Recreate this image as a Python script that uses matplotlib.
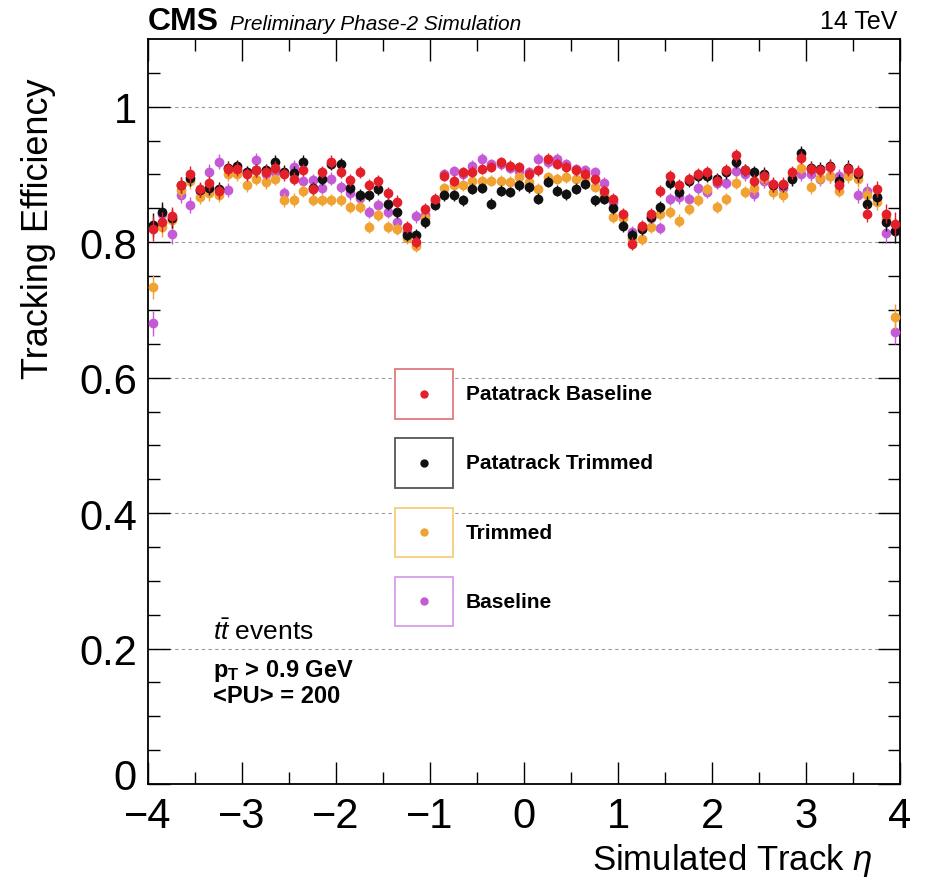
import numpy as np
import matplotlib
matplotlib.use('Agg')
import matplotlib.pyplot as plt
from matplotlib.patches import Rectangle

plt.rcParams['font.family'] = ['Liberation Sans', 'DejaVu Sans']
plt.rcParams['mathtext.fontset'] = 'custom'
plt.rcParams['mathtext.rm'] = 'Liberation Sans'
plt.rcParams['mathtext.it'] = 'Liberation Sans:italic'
plt.rcParams['mathtext.bf'] = 'Liberation Sans:bold'

# bin centres in eta, 80 bins of 0.1 between -4 and 4
eta = np.arange(-3.95, 4.0, 0.1)

patatrack_baseline = [
    0.820, 0.830, 0.838, 0.884, 0.900, 0.878, 0.887, 0.875, 0.908, 0.908,
    0.900, 0.906, 0.904, 0.910, 0.900, 0.894, 0.906, 0.879, 0.904, 0.919,
    0.904, 0.892, 0.904, 0.884, 0.890, 0.872, 0.860, 0.823, 0.800, 0.849,
    0.864, 0.898, 0.891, 0.903, 0.904, 0.908, 0.911, 0.918, 0.913, 0.911,
    0.901, 0.906, 0.923, 0.916, 0.911, 0.906, 0.901, 0.893, 0.876, 0.864,
    0.842, 0.798, 0.824, 0.842, 0.875, 0.897, 0.884, 0.893, 0.901, 0.903,
    0.891, 0.907, 0.928, 0.906, 0.891, 0.898, 0.886, 0.886, 0.903, 0.925,
    0.908, 0.906, 0.911, 0.884, 0.908, 0.903, 0.842, 0.879, 0.842, 0.827]

patatrack_trimmed = [
    0.825, 0.844, 0.835, 0.884, 0.895, 0.877, 0.880, 0.878, 0.910, 0.912,
    0.903, 0.906, 0.906, 0.919, 0.904, 0.902, 0.919, 0.880, 0.894, 0.916,
    0.915, 0.880, 0.870, 0.870, 0.879, 0.857, 0.845, 0.811, 0.811, 0.830,
    0.855, 0.869, 0.869, 0.862, 0.879, 0.880, 0.857, 0.876, 0.874, 0.884,
    0.881, 0.864, 0.889, 0.876, 0.871, 0.879, 0.886, 0.862, 0.864, 0.850,
    0.824, 0.810, 0.820, 0.837, 0.852, 0.888, 0.874, 0.890, 0.898, 0.898,
    0.893, 0.903, 0.918, 0.906, 0.903, 0.901, 0.884, 0.884, 0.893, 0.932,
    0.910, 0.908, 0.913, 0.890, 0.910, 0.900, 0.856, 0.867, 0.830, 0.817]

trimmed = [
    0.734, 0.823, 0.833, 0.877, 0.890, 0.867, 0.872, 0.870, 0.900, 0.900,
    0.884, 0.894, 0.889, 0.894, 0.862, 0.862, 0.875, 0.862, 0.862, 0.862,
    0.862, 0.852, 0.852, 0.822, 0.840, 0.822, 0.820, 0.806, 0.794, 0.835,
    0.860, 0.880, 0.884, 0.884, 0.891, 0.891, 0.891, 0.891, 0.889, 0.896,
    0.889, 0.879, 0.896, 0.894, 0.896, 0.894, 0.896, 0.882, 0.870, 0.837,
    0.835, 0.805, 0.805, 0.822, 0.842, 0.844, 0.832, 0.849, 0.862, 0.879,
    0.852, 0.864, 0.888, 0.874, 0.880, 0.895, 0.874, 0.869, 0.898, 0.910,
    0.881, 0.895, 0.898, 0.876, 0.898, 0.893, 0.870, 0.860, 0.835, 0.690]

baseline = [
    0.680, 0.842, 0.812, 0.870, 0.855, 0.875, 0.904, 0.919, 0.877, 0.905,
    0.902, 0.921, 0.900, 0.903, 0.872, 0.911, 0.890, 0.892, 0.880, 0.894,
    0.882, 0.872, 0.865, 0.845, 0.855, 0.845, 0.830, 0.815, 0.838, 0.840,
    0.862, 0.900, 0.905, 0.900, 0.913, 0.923, 0.915, 0.915, 0.910, 0.905,
    0.903, 0.923, 0.918, 0.923, 0.915, 0.908, 0.906, 0.903, 0.888, 0.860,
    0.840, 0.815, 0.822, 0.835, 0.821, 0.864, 0.866, 0.864, 0.880, 0.874,
    0.888, 0.888, 0.905, 0.900, 0.871, 0.890, 0.885, 0.880, 0.895, 0.901,
    0.900, 0.893, 0.898, 0.898, 0.905, 0.869, 0.876, 0.865, 0.813, 0.668]

# statistical uncertainty per bin (same for all four samples)
err = [
    0.018, 0.015, 0.014, 0.012, 0.012, 0.011, 0.011, 0.011, 0.010, 0.010,
    0.010, 0.010, 0.010, 0.010, 0.010, 0.010, 0.009, 0.009, 0.009, 0.009,
    0.009, 0.009, 0.009, 0.009, 0.009, 0.009, 0.009, 0.009, 0.009, 0.009,
    0.008, 0.008, 0.008, 0.008, 0.008, 0.008, 0.008, 0.008, 0.008, 0.008,
    0.008, 0.008, 0.008, 0.008, 0.008, 0.008, 0.008, 0.008, 0.008, 0.008,
    0.009, 0.009, 0.009, 0.009, 0.009, 0.009, 0.009, 0.009, 0.009, 0.009,
    0.009, 0.009, 0.009, 0.009, 0.010, 0.010, 0.010, 0.010, 0.010, 0.010,
    0.010, 0.010, 0.010, 0.010, 0.011, 0.011, 0.012, 0.012, 0.014, 0.018]

labels = ['Patatrack Baseline', 'Patatrack Trimmed', 'Trimmed', 'Baseline']
series = [patatrack_baseline, patatrack_trimmed, trimmed, baseline]
colors = ['#e3202a', '#111111', '#f0a232', '#c45ad6']
box_colors = ['#e07a80', '#555555', '#f3cf7a', '#d99ee6']

fig = plt.figure(figsize=(9.3, 8.95), dpi=100)
ax = fig.add_axes([148/930, 110/895, 752/930, 745/895])

# draw back to front: Baseline, Trimmed, Patatrack Trimmed, Patatrack Baseline
for k in [3, 2, 1, 0]:
    ax.errorbar(eta, series[k], yerr=err, fmt='o', color=colors[k],
                markersize=6, elinewidth=1.0, capsize=0, zorder=3 + (3 - k))

ax.set_xlim(-4, 4)
ax.set_ylim(0, 1.1)
for yv in [0.2, 0.4, 0.6, 0.8, 1.0]:
    ax.axhline(yv, color='#9a9a9a', lw=0.8, ls=(0, (3, 3)), zorder=1)

ax.set_xticks([-4, -3, -2, -1, 0, 1, 2, 3, 4])
ax.set_xticks(np.arange(-3.5, 4, 1.0), minor=True)
ax.set_yticks([0, 0.2, 0.4, 0.6, 0.8, 1.0])
# the "0" is written separately, nudged up a little so it does not sit on "-4"
ax.set_yticklabels(['', '0.2', '0.4', '0.6', '0.8', '1'])
ax.set_yticks(np.arange(0, 1.1, 0.05), minor=True)
ax.tick_params(which='both', direction='in', top=True, right=True,
               labelsize=30, width=1.0)
ax.tick_params(which='major', length=16)
ax.tick_params(which='minor', length=8.5)
ax.tick_params(axis='x', pad=9)
ax.tick_params(axis='y', pad=8)
for sp in ax.spines.values():
    sp.set_linewidth(1.3)
ax.annotate('0', xy=(0, 0), xycoords=('axes fraction', 'data'),
            xytext=(-8, 4), textcoords='offset points',
            ha='right', va='center', fontsize=30)

fig.text(38/930, 1 - 78/895, 'Tracking Efficiency', rotation=90,
         ha='center', va='top', fontsize=26)
fig.text(872/930, 1 - 861/895, r'Simulated Track $\eta$',
         ha='right', va='center', fontsize=25)

fig.text(148/930, 1 - 22/895, 'CMS', fontsize=23, fontweight='bold',
         ha='left', va='center')
fig.text(230/930, 1 - 24/895, 'Preliminary Phase-2 Simulation',
         fontsize=15, style='italic', ha='left', va='center')
fig.text(897/930, 1 - 22/895, '14 TeV', fontsize=18, ha='right', va='center')

# legend drawn by hand, one framed box per sample
box_x0, box_w, box_h = 0.3285, 0.0771, 0.067
box_y = [0.5235, 0.4309, 0.3376, 0.2450]
for k in range(4):
    ax.add_patch(Rectangle((box_x0, box_y[k] - box_h/2), box_w, box_h,
                           transform=ax.transAxes, fill=True, facecolor='white',
                           edgecolor=box_colors[k], lw=1.3, zorder=8))
    ax.plot([box_x0 + box_w/2], [box_y[k]], 'o', color=colors[k],
            markersize=5, transform=ax.transAxes, zorder=9)
    ax.text(0.4229, box_y[k], labels[k], transform=ax.transAxes,
            fontsize=15, fontweight='bold', ha='left', va='center', zorder=9)

ax.text(0.087, 0.195, r'$t\bar{t}$ events', transform=ax.transAxes,
        fontsize=19, ha='left', va='baseline')
ax.text(0.087, 0.145, r'p$_{\mathbf{T}}$ > 0.9 GeV', transform=ax.transAxes,
        fontsize=17, fontweight='bold', ha='left', va='baseline')
ax.text(0.087, 0.110, '<PU> = 200', transform=ax.transAxes,
        fontsize=17, fontweight='bold', ha='left', va='baseline')

fig.savefig('out.png', dpi=100)
